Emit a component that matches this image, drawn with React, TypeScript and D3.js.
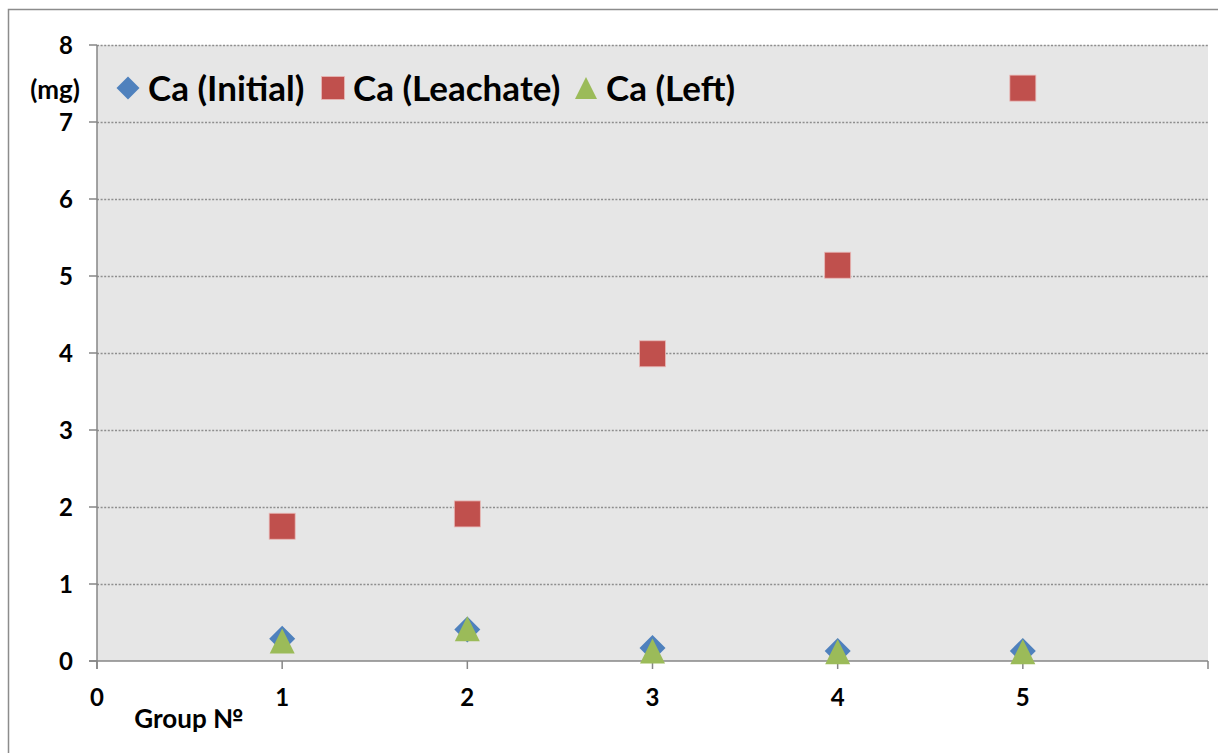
import React from "react";
import * as d3 from "d3";

// Calcium content per group (mg)
const groups = [1, 2, 3, 4, 5];
const caInitial = [0.29, 0.41, 0.17, 0.13, 0.13];
const caLeachate = [1.75, 1.91, 3.99, 5.14, 7.44];
const caLeft = [0.26, 0.42, 0.13, 0.12, 0.12];

const xTicks = [0, 1, 2, 3, 4, 5, 6];
const xTickLabels = ["0", "1", "2", "3", "4", "5", ""];
const yTicks = [0, 1, 2, 3, 4, 5, 6, 7, 8];

const seriesNames = ["Ca (Initial)", "Ca (Leachate)", "Ca (Left)"];
const seriesColors = ["#4f81bd", "#c0504d", "#9bbb59"];

const W = 1218;
const H = 753;
const plot = { left: 97, right: 1208, top: 45, bottom: 661 };
const FONT = "Lato, 'Open Sans', sans-serif";

function Marker({ kind, x, y, color, s }: { kind: number; x: number; y: number; color: string; s: number }) {
  const h = s / 2;
  if (kind === 0) {
    return <path d={`M${x},${y - h} L${x + h},${y} L${x},${y + h} L${x - h},${y} Z`} fill={color} />;
  }
  if (kind === 1) {
    return <rect x={x - h} y={y - h} width={s} height={s} fill={color} stroke="#e8b8b6" strokeWidth={0.8} />;
  }
  return <path d={`M${x},${y - h} L${x + h},${y + h} L${x - h},${y + h} Z`} fill={color} />;
}

export default function App() {
  const x = d3.scaleLinear().domain([0, 6]).range([plot.left, plot.right]);
  const y = d3.scaleLinear().domain([0, 8]).range([plot.bottom, plot.top]);
  const series = [caInitial, caLeachate, caLeft];
  const axisColor = "#868686";

  const legendX = [128, 333, 586];
  const legendY = 88;

  return (
    <svg
      width={W}
      height={H}
      style={{ position: "absolute", left: 0, top: 0, display: "block" }}
      fontFamily={FONT}
    >
      <rect x={0} y={0} width={W} height={H} fill="#ffffff" />
      {/* chart frame */}
      <path d={`M${W},9.5 L8.5,9.5 L8.5,${H}`} fill="none" stroke="#8c8c8c" strokeWidth={1.5} />
      {/* plot background */}
      <rect x={plot.left} y={plot.top} width={plot.right - plot.left} height={plot.bottom - plot.top} fill="#e6e6e6" />
      {/* gridlines */}
      {yTicks.filter((t) => t > 0).map((t) => (
        <line
          key={"g" + t}
          x1={plot.left}
          x2={plot.right}
          y1={Math.round(y(t)) + 0.5}
          y2={Math.round(y(t)) + 0.5}
          stroke="#8e8e8e"
          strokeWidth={1.3}
          strokeDasharray="2,1.6"
        />
      ))}
      {/* axes */}
      <line x1={plot.left} x2={plot.left} y1={plot.top} y2={plot.bottom + 8} stroke={axisColor} strokeWidth={1.5} />
      <line x1={plot.left - 8} x2={plot.right} y1={plot.bottom} y2={plot.bottom} stroke={axisColor} strokeWidth={1.5} />
      {yTicks.map((t) => (
        <g key={"y" + t}>
          <line x1={plot.left - 8} x2={plot.left} y1={y(t)} y2={y(t)} stroke={axisColor} strokeWidth={1.5} />
          <text x={73} y={y(t)} dy="0.36em" textAnchor="end" fontSize={24} fontWeight={700} fill="#000">
            {t}
          </text>
        </g>
      ))}
      {xTicks.map((t, i) => (
        <g key={"x" + t}>
          <line x1={x(t)} x2={x(t)} y1={plot.bottom} y2={plot.bottom + 8} stroke={axisColor} strokeWidth={1.5} />
          <text x={x(t)} y={697} dy="0.36em" textAnchor="middle" fontSize={24} fontWeight={700} fill="#000">
            {xTickLabels[i]}
          </text>
        </g>
      ))}
      {/* axis titles */}
      <text x={55} y={90} dy="0.36em" textAnchor="middle" fontSize={26} fontWeight={700} fill="#000">
        (mg)
      </text>
      <text x={189} y={719} dy="0.36em" textAnchor="middle" fontSize={26} fontWeight={700} fill="#000">
        Group №
      </text>
      {/* data points */}
      {series.map((vals, si) =>
        vals.map((v, i) => (
          <Marker key={`m${si}-${i}`} kind={si} x={x(groups[i])} y={y(v)} color={seriesColors[si]} s={si === 2 ? 25 : 26} />
        ))
      )}
      {/* legend */}
      {seriesNames.map((name, i) => (
        <g key={"l" + i}>
          <Marker kind={i} x={legendX[i]} y={legendY} color={seriesColors[i]} s={i === 2 ? 22 : 23} />
          <text x={legendX[i] + 20} y={legendY} dy="0.36em" fontSize={35} fontWeight={700} fill="#000">
            {name}
          </text>
        </g>
      ))}
    </svg>
  );
}
